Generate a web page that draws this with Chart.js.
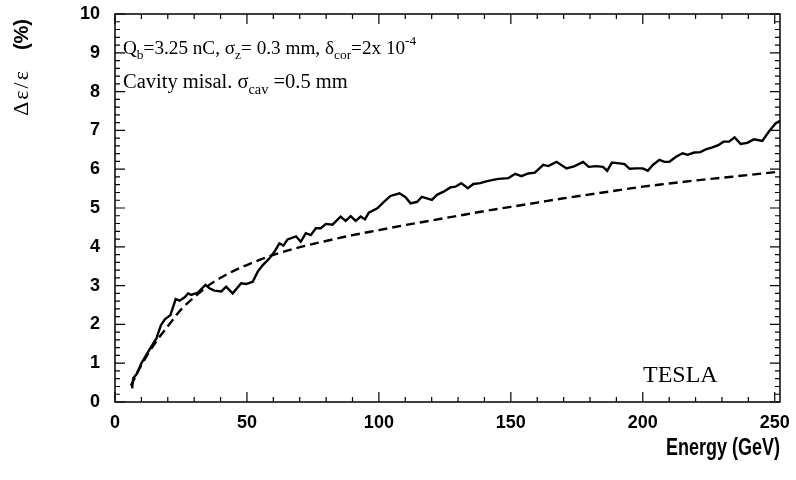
<!DOCTYPE html>
<html>
<head>
<meta charset="utf-8">
<title>Emittance growth vs energy</title>
<script src="https://cdn.jsdelivr.net/npm/chart.js@4.4.1/dist/chart.umd.min.js"></script>
<style>
    body { margin: 0; background: #fff; }
    #chart { display: block; }
</style>
</head>
<body>
<canvas id="chart" width="796" height="480"></canvas>
<script>
// Data
var simEnergy = [6.5, 6.9, 8.2, 10, 12.6, 14.5, 15.7, 17.4, 18.9, 21, 23, 24.5, 26.4, 27.7, 28.9, 31.4,
    34.3, 35.8, 37.7, 40.3, 42.1, 44.6, 47.8, 49.7, 52.2, 54.1, 56, 58.5, 60.4, 62.3, 63.8, 65.4,
    68.6, 70.4, 72.3, 74.2, 76.1, 78, 79.9, 82.4, 85.5, 87.4, 89.3, 91.2, 93.1, 94.7, 96.2, 99.4,
    101.9, 104.4, 107.8, 110.1, 112, 114.5, 116.3, 118.2, 120.1, 122, 124.5, 127.1, 129, 131.2,
    133.7, 135.8, 138.4, 140.3, 142.8, 145.3, 149.1, 151.7, 154, 156.6, 159.1, 162.3, 164.2, 167.3,
    171.1, 174.2, 177.4, 179.5, 182.4, 184.9, 186.5, 188.3, 191.2, 193.1, 195, 197.5, 200, 201.9,
    203.8, 206.3, 208.2, 210.1, 212.6, 215.1, 217, 219.5, 221.8, 223.9, 226.4, 228.6, 230.6, 232.7,
    234.8, 237.1, 239.6, 242.1, 245.3, 247.8, 250.3, 252];
var simGrowth = [0.35, 0.61, 0.72, 1.0, 1.30, 1.51, 1.64, 1.98, 2.13, 2.24, 2.65, 2.61, 2.70, 2.80, 2.76, 2.82,
    3.02, 2.93, 2.87, 2.85, 2.97, 2.80, 3.06, 3.04, 3.10, 3.36, 3.53, 3.70, 3.87, 4.09, 4.03, 4.19,
    4.27, 4.13, 4.35, 4.30, 4.48, 4.48, 4.59, 4.57, 4.78, 4.67, 4.79, 4.67, 4.78, 4.71, 4.88, 4.99,
    5.16, 5.31, 5.38, 5.28, 5.12, 5.16, 5.29, 5.25, 5.21, 5.34, 5.42, 5.53, 5.55, 5.64,
    5.51, 5.62, 5.64, 5.68, 5.72, 5.75, 5.77, 5.88, 5.82, 5.89, 5.91, 6.11, 6.08, 6.19,
    6.02, 6.08, 6.19, 6.06, 6.08, 6.06, 5.96, 6.17, 6.15, 6.13, 6.01, 6.02, 6.02, 5.96,
    6.11, 6.24, 6.19, 6.19, 6.32, 6.41, 6.37, 6.43, 6.44, 6.51, 6.56, 6.62, 6.71, 6.71,
    6.82, 6.65, 6.68, 6.77, 6.73, 6.97, 7.18, 7.25];

var fitEnergy = [6, 10, 15, 20, 25, 30, 35, 40, 45, 50, 55, 60, 70, 80, 90, 100, 110, 120, 130,
    140, 150, 160, 170, 180, 190, 200, 210, 220, 230, 240, 252];
var fitGrowth = [0.42, 0.95, 1.5, 1.95, 2.38, 2.7, 2.98, 3.2, 3.38, 3.53, 3.67, 3.79, 3.99, 4.15, 4.3,
    4.43, 4.56, 4.68, 4.8, 4.92, 5.03, 5.14, 5.25, 5.35, 5.45, 5.55, 5.63, 5.71, 5.78, 5.85, 5.94];

var xTicks = [0, 50, 100, 150, 200, 250];
var yTicks = [0, 1, 2, 3, 4, 5, 6, 7, 8, 9, 10];

function toPoints(xs, ys) {
    return xs.map(function(x, i) { return { x: x, y: ys[i] }; });
}

// draw a line of text with sub/superscripts, returns end x
function drawRich(ctx, x, y, parts, size, family) {
    parts.forEach(function(p) {
        var s = size, dy = 0;
        if (p[1] === 'sub') { s = size * 0.7; dy = size * 0.28; }
        if (p[1] === 'sup') { s = size * 0.7; dy = -size * 0.45; }
        ctx.font = s + 'px ' + family;
        ctx.fillText(p[0], x, y + dy);
        x += ctx.measureText(p[0]).width;
    });
    return x;
}

// ROOT style frame, inward ticks and labels
var framePlugin = {
    id: 'frame',
    afterDraw: function(chart) {
        var ctx = chart.ctx;
        var area = chart.chartArea;
        var xs = chart.scales.x, ys = chart.scales.y;
        ctx.save();
        ctx.strokeStyle = '#000';
        ctx.lineWidth = 1.5;
        ctx.strokeRect(area.left, area.top, area.right - area.left, area.bottom - area.top);

        ctx.lineWidth = 1.2;
        ctx.beginPath();
        for (var v = 0; v <= 250; v += 10) {
            var px = xs.getPixelForValue(v);
            var len = (v % 50 === 0) ? 10 : 5;
            ctx.moveTo(px, area.bottom); ctx.lineTo(px, area.bottom - len);
            ctx.moveTo(px, area.top); ctx.lineTo(px, area.top + len);
        }
        for (var k = 0; k <= 50; k++) {
            var py = ys.getPixelForValue(k * 0.2);
            var l = (k % 5 === 0) ? 10 : 5;
            ctx.moveTo(area.left, py); ctx.lineTo(area.left + l, py);
            ctx.moveTo(area.right, py); ctx.lineTo(area.right - l, py);
        }
        ctx.stroke();

        ctx.fillStyle = '#000';
        ctx.textAlign = 'left';
        ctx.textBaseline = 'alphabetic';
        var serif = '"Liberation Serif", "Times New Roman", serif';
        drawRich(ctx, 123, 54, [
            ['Q', 'n'], ['b', 'sub'], ['=3.25 nC, ', 'n'], ['σ', 'n'], ['z', 'sub'],
            ['= 0.3 mm, ', 'n'], ['δ', 'n'], ['cor', 'sub'], ['=2x 10', 'n'], ['-4', 'sup']
        ], 19.2, serif);
        drawRich(ctx, 123, 88, [
            ['Cavity misal. σ', 'n'], ['cav', 'sub'], [' =0.5 mm', 'n']
        ], 20.5, serif);
        ctx.font = '24px ' + serif;
        ctx.fillText('TESLA', 643, 382);

        // x axis title (narrow bold face)
        ctx.save();
        ctx.translate(780, 455);
        ctx.scale(0.75, 1);
        ctx.font = 'bold 24px "Liberation Sans", Arial, sans-serif';
        ctx.textAlign = 'right';
        ctx.fillText('Energy (GeV)', 0, 0);
        ctx.restore();

        // y axis title, rotated
        ctx.translate(28, 19);
        ctx.rotate(-Math.PI / 2);
        ctx.textAlign = 'right';
        ctx.font = 'bold 20px "Liberation Sans", Arial, sans-serif';
        ctx.fillText('(%)', 0, 0);
        var w = ctx.measureText('(%)').width;
        ctx.font = '22px ' + serif;
        ctx.letterSpacing = '2px';
        ctx.fillText('Δε/ε  ', -w - 4, 0);
        ctx.restore();
    }
};

var tickFont = { family: '"Liberation Sans", Arial, sans-serif', size: 18, weight: 'bold' };

var chart = new Chart(document.getElementById('chart'), {
    type: 'scatter',
    data: {
        datasets: [{
            label: 'simulation',
            data: toPoints(simEnergy, simGrowth),
            showLine: true,
            borderColor: '#000',
            borderWidth: 2.4,
            pointRadius: 0,
            tension: 0
        }, {
            label: 'fit',
            data: toPoints(fitEnergy, fitGrowth),
            showLine: true,
            borderColor: '#000',
            borderWidth: 2.4,
            borderDash: [9, 5],
            pointRadius: 0,
            cubicInterpolationMode: 'monotone'
        }]
    },
    options: {
        responsive: false,
        animation: false,
        devicePixelRatio: 1,
        layout: { padding: { top: 14, right: 16, left: 0, bottom: 0 } },
        plugins: {
            legend: { display: false },
            tooltip: { enabled: false }
        },
        scales: {
            x: {
                type: 'linear',
                min: 0,
                max: 252,
                grid: { display: false, drawTicks: false },
                border: { display: false },
                afterFit: function(scale) {
                    scale.height = 78;
                    scale.paddingLeft = 0;
                    scale.paddingRight = 0;
                },
                afterBuildTicks: function(scale) {
                    scale.ticks = xTicks.map(function(v) { return { value: v }; });
                },
                ticks: { color: '#000', font: tickFont, padding: 10, maxRotation: 0, autoSkip: false }
            },
            y: {
                min: 0,
                max: 10,
                grid: { display: false, drawTicks: false },
                border: { display: false },
                afterFit: function(scale) {
                    scale.width = 115;
                    scale.paddingTop = 0;
                    scale.paddingBottom = 0;
                },
                afterBuildTicks: function(scale) {
                    scale.ticks = yTicks.map(function(v) { return { value: v }; });
                },
                ticks: { color: '#000', font: tickFont, padding: 15, autoSkip: false }
            }
        }
    },
    plugins: [framePlugin]
});
</script>
</body>
</html>
